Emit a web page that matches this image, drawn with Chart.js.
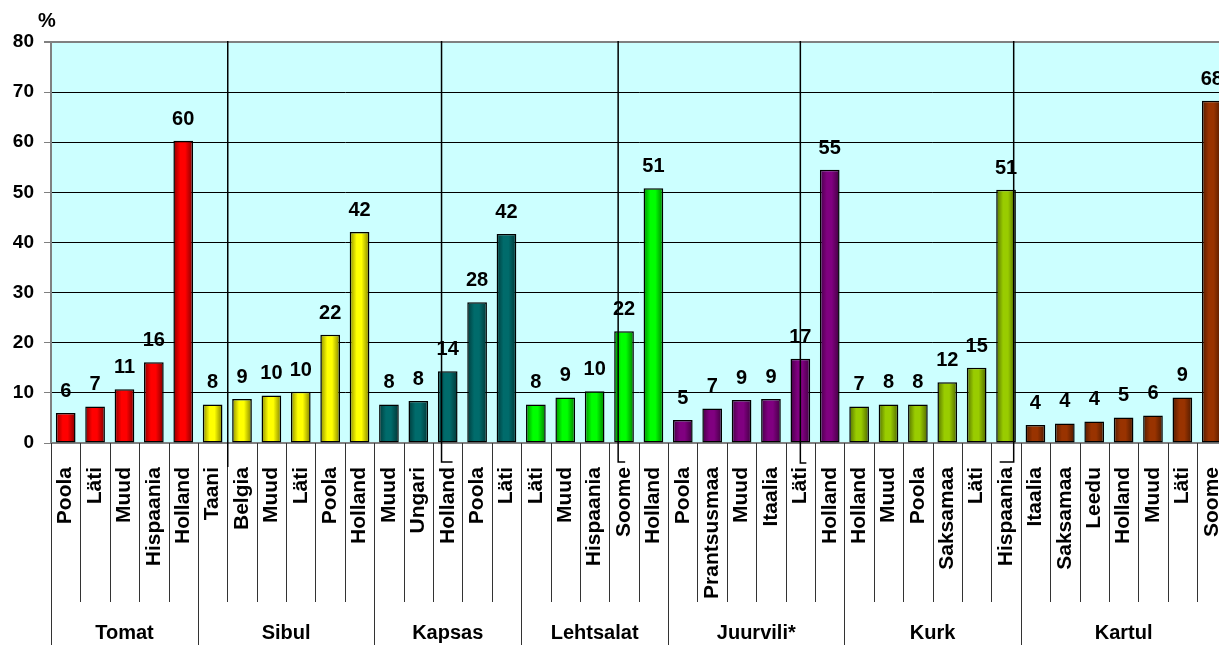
<!DOCTYPE html>
<html>
<head>
<meta charset="utf-8">
<script src="https://cdn.jsdelivr.net/npm/chart.js@4.4.1/dist/chart.umd.min.js"></script>
<style>
  html, body { margin: 0; padding: 0; background: #fff; overflow: hidden; }
  #wrap { width: 1261px; height: 645px; }
</style>
</head>
<body>
<div id="wrap"><canvas id="chart"></canvas></div>
<script>
const groupNames = ['Tomat', 'Sibul', 'Kapsas', 'Lehtsalat', 'Juurvili*', 'Kurk', 'Kartul'];

const tomatCountries = ['Poola', 'Läti', 'Muud', 'Hispaania', 'Holland'];
const tomatShares = [6.0, 7.3, 10.7, 16.1, 60.3];
const sibulCountries = ['Taani', 'Belgia', 'Muud', 'Läti', 'Poola', 'Holland'];
const sibulShares = [7.7, 8.8, 9.5, 10.2, 21.6, 42.1];
const kapsasCountries = ['Muud', 'Ungari', 'Holland', 'Poola', 'Läti'];
const kapsasShares = [7.7, 8.4, 14.3, 28.1, 41.7];
const lehtsalatCountries = ['Läti', 'Muud', 'Hispaania', 'Soome', 'Holland'];
const lehtsalatShares = [7.7, 9.1, 10.3, 22.3, 50.8];
const juurviliCountries = ['Poola', 'Prantsusmaa', 'Muud', 'Itaalia', 'Läti', 'Holland'];
const juurviliShares = [4.6, 6.9, 8.6, 8.8, 16.8, 54.5];
const kurkCountries = ['Holland', 'Muud', 'Poola', 'Saksamaa', 'Läti', 'Hispaania'];
const kurkShares = [7.3, 7.7, 7.7, 12.1, 15.0, 50.5];
const kartulCountries = ['Itaalia', 'Saksamaa', 'Leedu', 'Holland', 'Muud', 'Läti', 'Soome'];
const kartulShares = [3.6, 3.9, 4.3, 5.1, 5.5, 9.1, 68.3];

const yTicks = [0, 10, 20, 30, 40, 50, 60, 70, 80];

const groupColors = ['#ff0000', '#ffff00', '#006b6b', '#00ff00', '#800080', '#99cc00', '#993300'];

const groupCountries = [tomatCountries, sibulCountries, kapsasCountries, lehtsalatCountries,
    juurviliCountries, kurkCountries, kartulCountries];
const groupShares = [tomatShares, sibulShares, kapsasShares, lehtsalatShares,
    juurviliShares, kurkShares, kartulShares];

const labels = groupCountries.flat();
const values = groupShares.flat();
const barGroup = groupCountries.flatMap((list, g) => list.map(() => g));

// hand drawn dividers of the original, in category units
const dividers = [
    { at: 5.515, hook: 0, drop: 24 },
    { at: 12.79, hook: 11, drop: 19 },
    { at: 18.8, hook: 7, drop: 19 },
    { at: 25.0, hook: 6, drop: 20 },
    { at: 32.26, hook: -14, drop: 19 },
];

const BAR_PCT = 0.67;
const FONT = '"Liberation Sans", Arial, sans-serif';

const shade = (hex, f) => {
    const n = parseInt(hex.slice(1), 16);
    const r = Math.round(((n >> 16) & 255) * f);
    const g = Math.round(((n >> 8) & 255) * f);
    const b = Math.round((n & 255) * f);
    return `rgb(${r},${g},${b})`;
};

const barFill = (ctx) => {
    const base = groupColors[barGroup[ctx.dataIndex]] || '#888';
    const xs = ctx.chart.scales.x;
    if (ctx.dataIndex === undefined || !xs || !xs.width) {
        return base;
    }
    const cx = xs.getPixelForValue(ctx.dataIndex);
    const half = xs.width / labels.length * BAR_PCT / 2;
    const grad = ctx.chart.ctx.createLinearGradient(cx - half, 0, cx + half, 0);
    grad.addColorStop(0, shade(base, 0.55));
    grad.addColorStop(0.35, base);
    grad.addColorStop(0.6, base);
    grad.addColorStop(1, shade(base, 0.5));
    return grad;
};

const plotBackground = {
    id: 'plotBackground',
    beforeDraw(chart) {
        const { ctx, chartArea: a } = chart;
        ctx.save();
        ctx.fillStyle = '#ccffff';
        ctx.fillRect(a.left, a.top, a.right - a.left, a.bottom - a.top);
        ctx.restore();
    },
};

const valueLabels = {
    id: 'valueLabels',
    afterDatasetsDraw(chart) {
        const { ctx } = chart;
        const meta = chart.getDatasetMeta(0);
        ctx.save();
        ctx.font = `bold 20px ${FONT}`;
        ctx.fillStyle = '#000';
        ctx.textAlign = 'center';
        ctx.textBaseline = 'alphabetic';
        meta.data.forEach((bar, i) => {
            ctx.fillText(String(Math.round(values[i])), bar.x, bar.y - 16);
        });
        ctx.restore();
    },
};

const axisFrame = {
    id: 'axisFrame',
    afterDraw(chart) {
        const { ctx, chartArea: a, scales: { x } } = chart;
        const H = chart.height;
        ctx.save();

        // lines between categories under the axis
        ctx.strokeStyle = '#333';
        ctx.lineWidth = 1;
        let start = 0;
        const groupEdges = [-0.5];
        groupCountries.forEach((list) => {
            start += list.length;
            groupEdges.push(start - 0.5);
        });
        for (let i = 0; i <= labels.length; i++) {
            const px = Math.round(x.getPixelForValue(i - 0.5)) + 0.5;
            ctx.beginPath();
            ctx.moveTo(px, a.bottom);
            ctx.lineTo(px, groupEdges.includes(i - 0.5) ? H : 602);
            ctx.stroke();
        }

        // group names
        ctx.fillStyle = '#000';
        ctx.font = `bold 20px ${FONT}`;
        ctx.textAlign = 'center';
        ctx.textBaseline = 'middle';
        groupNames.forEach((name, g) => {
            const mid = (x.getPixelForValue(groupEdges[g]) + x.getPixelForValue(groupEdges[g + 1])) / 2;
            ctx.fillText(name, mid, 633);
        });

        // unit
        ctx.fillText('%', 47, 21);

        // hand drawn dividers
        ctx.strokeStyle = '#000';
        ctx.lineWidth = 1.5;
        dividers.forEach((d) => {
            const px = x.getPixelForValue(d.at);
            ctx.beginPath();
            ctx.moveTo(px, a.top - 1);
            ctx.lineTo(px, a.bottom + d.drop);
            if (d.hook) {
                ctx.lineTo(px + d.hook, a.bottom + d.drop);
            }
            ctx.stroke();
        });
        ctx.restore();
    },
};

new Chart(document.getElementById('chart').getContext('2d'), {
    type: 'bar',
    data: {
        labels: labels,
        datasets: [
            {
                data: values,
                backgroundColor: barFill,
                borderColor: '#000',
                borderWidth: 1.5,
                borderSkipped: false,
                categoryPercentage: 1,
                barPercentage: BAR_PCT,
            },
        ],
    },
    options: {
        responsive: true,
        maintainAspectRatio: false,
        animation: false,
        layout: {
            padding: { top: 42, right: 4, left: 0, bottom: 0 },
        },
        plugins: {
            legend: { display: false },
            tooltip: { enabled: false },
        },
        scales: {
            x: {
                afterFit(scale) {
                    scale.height = 202;
                },
                grid: { display: false, drawTicks: false },
                border: { display: true, color: '#808080', width: 2 },
                ticks: {
                    autoSkip: false,
                    maxRotation: 90,
                    minRotation: 90,
                    padding: 24,
                    color: '#000',
                    font: { family: FONT, size: 21, weight: 'bold' },
                },
            },
            y: {
                min: 0,
                max: 80,
                afterFit(scale) {
                    scale.width = 51;
                },
                afterBuildTicks(scale) {
                    scale.ticks = yTicks.map((v) => ({ value: v }));
                },
                grid: {
                    color: (c) => (c.tick && c.tick.value === 80 ? '#808080' : '#000'),
                    lineWidth: (c) => (c.tick && c.tick.value === 80 ? 2 : 1),
                    tickColor: '#808080',
                    tickLength: 7,
                },
                border: { display: true, color: '#808080', width: 2 },
                ticks: {
                    padding: 10,
                    color: '#000',
                    font: { family: FONT, size: 19, weight: 'bold' },
                },
            },
        },
    },
    plugins: [plotBackground, valueLabels, axisFrame],
});
</script>
</body>
</html>
